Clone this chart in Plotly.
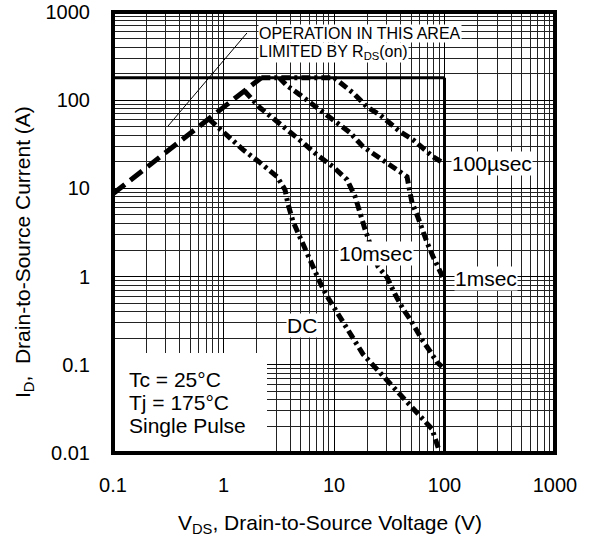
import plotly.graph_objects as go

# ---- data ----
x_ticks = [0.1, 1, 10, 100, 1000]
x_ticktext = ["0.1", "1", "10", "100", "1000"]
y_ticks = [0.01, 0.1, 1, 10, 100, 1000]
y_ticktext = ["0.01", "0.1", "1", "10", "100", "1000"]

rds_v = [0.1, 2.2]
rds_i = [8.7, 180]

imax_v = [0.1, 100]
imax_i = [180, 180]
vmax_v = [100, 100]
vmax_i = [0.01, 180]

us100_v = [2.2, 10, 14.9, 19.9, 26.1, 32.1, 39.6, 51.9, 66.7, 78.7, 100]
us100_i = [180, 180, 121, 84, 68, 55.5, 44, 35.6, 27.5, 22.9, 19]

ms1_v = [3.2, 3.76, 4.92, 6.32, 8.3, 11.3, 14.0, 18.3, 24.5, 34.2, 45.8, 48.7, 50.8, 57.5, 63.9, 69.5, 78.7, 87.3, 100]
ms1_i = [180, 146, 115, 91, 68, 51, 42.8, 29.7, 22.9, 17.6, 13.6, 9.0, 6.9, 4.7, 3.16, 2.44, 1.69, 1.27, 0.9]

ms10_v = [1.55, 2.14, 2.92, 4.0, 5.24, 7.0, 9.8, 13.1, 15.5, 17.2, 19.1, 25.0, 30.2, 35.7, 42.1, 48.7, 56.4, 63.9, 73.9, 85.5, 95]
ms10_i = [127, 82, 60, 44, 33, 24.1, 17.6, 12.6, 8.1, 5.3, 3.42, 1.3, 0.98, 0.63, 0.43, 0.33, 0.24, 0.185, 0.143, 0.107, 0.095]

dc_v = [0.74, 1.5, 2.14, 3.05, 3.6, 3.84, 4.26, 4.92, 5.7, 6.46, 7.47, 8.64, 12.1, 18.3, 30.8, 54.1, 77.1, 91]
dc_i = [61, 27.5, 19.6, 13.6, 9.7, 6.6, 4.2, 2.77, 1.88, 1.27, 0.86, 0.6, 0.3, 0.132, 0.065, 0.03, 0.0187, 0.01]

pointer_v = [0.315, 1.63]
pointer_i = [51, 578]

FONT = "Liberation Sans, Arial, Helvetica, sans-serif"

fig = go.Figure()

# boundary lines
fig.add_trace(go.Scatter(x=imax_v, y=imax_i, mode="lines",
                         line=dict(color="black", width=3), hoverinfo="skip"))
fig.add_trace(go.Scatter(x=vmax_v, y=vmax_i, mode="lines",
                         line=dict(color="black", width=3), hoverinfo="skip"))
# pointer line for annotation
fig.add_trace(go.Scatter(x=pointer_v, y=pointer_i, mode="lines",
                         line=dict(color="black", width=1), hoverinfo="skip"))

curve_dash = "9px,4px,3px,4px"
for v, i in [(us100_v, us100_i), (ms1_v, ms1_i), (ms10_v, ms10_i), (dc_v, dc_i)]:
    fig.add_trace(go.Scatter(x=v, y=i, mode="lines",
                             line=dict(color="black", width=5, dash=curve_dash)))

fig.add_trace(go.Scatter(x=rds_v, y=rds_i, mode="lines",
                         line=dict(color="black", width=5, dash="15px,7px")))

L, R, T, B = 113, 39, 12, 85
W, H = 594, 538
PW, PH = W - L - R, H - T - B


def px(xp):
    return (xp - L) / PW


def py(yp):
    return (H - B - yp) / PH


annotations = []


def label(text, xc, yc, size=21, xanchor="center", bg="white"):
    a = dict(text=text, xref="paper", yref="paper", x=px(xc), y=py(yc),
             xanchor=xanchor, yanchor="middle", showarrow=False,
             font=dict(family=FONT, size=size, color="black"), borderpad=0)
    if bg:
        a["bgcolor"] = bg
    annotations.append(a)


label("100µsec", 492, 163)
label("1msec", 486, 278)
label("10msec", 376, 253)
label("DC", 302, 325)
label("OPERATION IN THIS AREA", 258, 33, size=16, xanchor="left")
label("LIMITED BY R<sub>DS</sub>(on)", 258, 53, size=16, xanchor="left")
label("Tc = 25°C", 128, 379, xanchor="left", bg=None)
label("Tj = 175°C", 128, 402, xanchor="left", bg=None)
label("Single Pulse", 128, 425, xanchor="left", bg=None)

# axis titles
annotations.append(dict(text="V<sub>DS</sub>, Drain-to-Source Voltage (V)", xref="paper", yref="paper",
                        x=px(330), y=py(524), xanchor="center", yanchor="middle", showarrow=False,
                        font=dict(family=FONT, size=21, color="black")))
annotations.append(dict(text="I<sub>D</sub>,  Drain-to-Source Current (A)", xref="paper", yref="paper",
                        x=px(24), y=py(252), xanchor="center", yanchor="middle", showarrow=False,
                        textangle=-90, font=dict(family=FONT, size=21, color="black")))

shapes = [
    dict(type="rect", xref="paper", yref="paper", x0=0, x1=px(267), y0=0, y1=py(353),
         fillcolor="white", line=dict(width=0), layer="above"),
    dict(type="rect", xref="paper", yref="paper", x0=0, x1=1, y0=0, y1=1,
         line=dict(color="black", width=4), layer="above"),
]

axis_common = dict(type="log", showline=False, ticks="", zeroline=False, automargin=False,
                   showgrid=True, gridcolor="black", gridwidth=1,
                   tickfont=dict(family=FONT, size=20, color="black"),
                   minor=dict(dtick="D1", showgrid=True, gridcolor="#222", gridwidth=1, ticks=""))

fig.update_xaxes(range=[-1, 3], tickvals=x_ticks, ticktext=x_ticktext,
                 ticklabelstandoff=18, **axis_common)
fig.update_yaxes(range=[-2, 3], tickvals=y_ticks, ticktext=y_ticktext,
                 ticklabelstandoff=22, **axis_common)

fig.update_layout(width=W, height=H, margin=dict(l=L, r=R, t=T, b=B, autoexpand=False),
                  paper_bgcolor="white", plot_bgcolor="white", showlegend=False,
                  annotations=annotations, shapes=shapes,
                  font=dict(family=FONT, color="black"))

fig.write_html("out.html")
